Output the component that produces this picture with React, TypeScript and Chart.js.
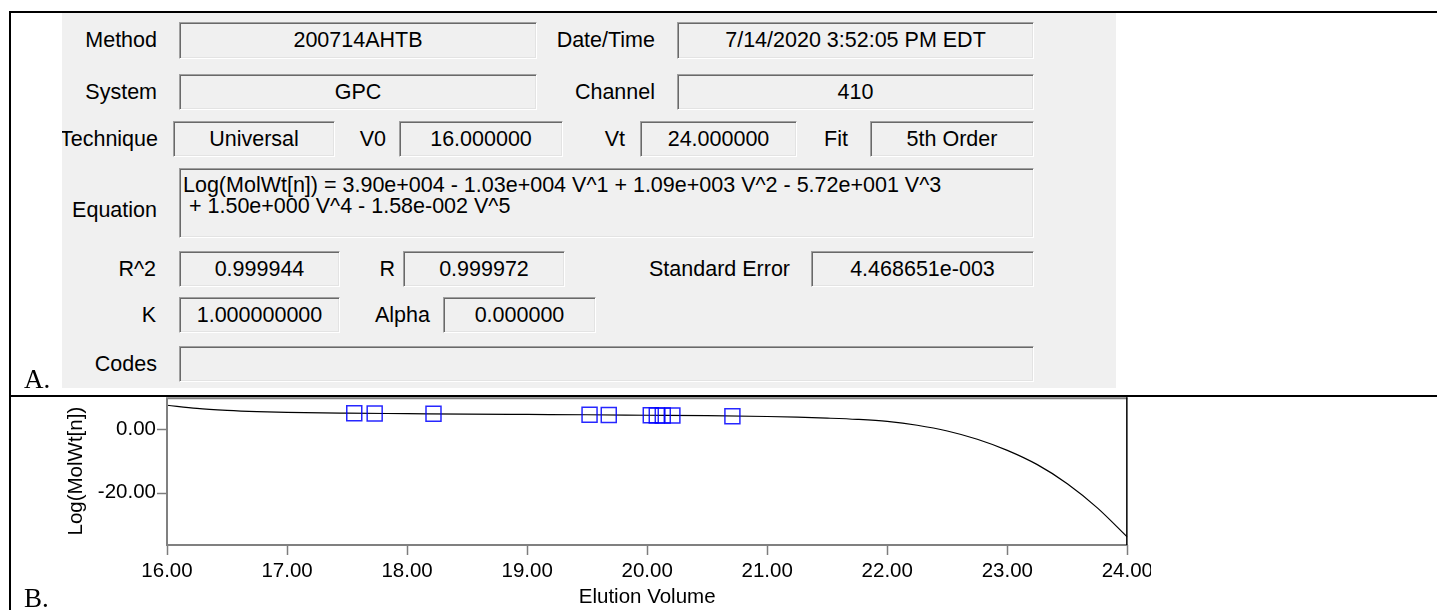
import React, { useEffect, useRef } from 'react';
import { Chart, registerables } from 'chart.js';

Chart.register(...registerables);

// ---- Chart data ----
const curveVolumes = [16, 16.25, 16.5, 16.75, 17, 17.5, 18, 18.5, 19, 19.5, 20, 20.5, 21, 21.25, 21.5, 21.75, 22, 22.25, 22.5, 22.75, 23, 23.25, 23.5, 23.75, 24];
const curveLogMolWt = [7.5, 6.5, 5.9, 5.5, 5.25, 5.0, 4.85, 4.7, 4.6, 4.5, 4.35, 4.2, 3.95, 3.75, 3.45, 3.05, 2.4, 1.2, -0.6, -3.2, -6.7, -11.2, -17.2, -24.8, -34.0];
const standardVolumes = [17.56, 17.73, 18.22, 19.52, 19.68, 20.03, 20.08, 20.13, 20.21, 20.71];
const standardLogMolWt = [4.95, 4.9, 4.8, 4.5, 4.45, 4.35, 4.3, 4.3, 4.25, 4.05];
const xRange = [16, 24];
const yRange = [-36.5, 10];
const yLabelledTicks = [0, -20];
const xTitle = 'Elution Volume';
const yTitle = 'Log(MolWt[n])';

const SANS = '"Liberation Sans", Arial, sans-serif';
const SERIF = '"Liberation Serif", "Times New Roman", serif';

// ---- Form panel (A) ----
const PANEL_X = 62;
const PANEL_Y = 12;

type LabelDef = { text: string; right: number; top: number; h: number };
type BoxDef = { text: string; x: number; y: number; x2: number; h: number };

const labels: LabelDef[] = [
  { text: 'Method', right: 157, top: 22, h: 37 },
  { text: 'Date/Time', right: 655, top: 22, h: 37 },
  { text: 'System', right: 157, top: 74, h: 36 },
  { text: 'Channel', right: 655, top: 74, h: 36 },
  { text: 'Technique', right: 158, top: 121, h: 36 },
  { text: 'V0', right: 386, top: 121, h: 36 },
  { text: 'Vt', right: 625, top: 121, h: 36 },
  { text: 'Fit', right: 848, top: 121, h: 36 },
  { text: 'Equation', right: 157, top: 192, h: 36 },
  { text: 'R^2', right: 156, top: 251, h: 36 },
  { text: 'R', right: 395, top: 251, h: 36 },
  { text: 'Standard Error', right: 790, top: 251, h: 36 },
  { text: 'K', right: 156, top: 297, h: 36 },
  { text: 'Alpha', right: 430, top: 297, h: 36 },
  { text: 'Codes', right: 157, top: 346, h: 36 },
];

const boxes: BoxDef[] = [
  { text: '200714AHTB', x: 179, y: 22, x2: 537, h: 37 },
  { text: '7/14/2020 3:52:05 PM EDT', x: 677, y: 22, x2: 1034, h: 37 },
  { text: 'GPC', x: 179, y: 74, x2: 537, h: 36 },
  { text: '410', x: 677, y: 74, x2: 1034, h: 36 },
  { text: 'Universal', x: 173, y: 121, x2: 335, h: 36 },
  { text: '16.000000', x: 399, y: 121, x2: 563, h: 36 },
  { text: '24.000000', x: 640, y: 121, x2: 797, h: 36 },
  { text: '5th Order', x: 870, y: 121, x2: 1034, h: 36 },
  { text: '0.999944', x: 179, y: 251, x2: 340, h: 36 },
  { text: '0.999972', x: 403, y: 251, x2: 565, h: 36 },
  { text: '4.468651e-003', x: 811, y: 251, x2: 1034, h: 36 },
  { text: '1.000000000', x: 179, y: 297, x2: 340, h: 36 },
  { text: '0.000000', x: 443, y: 297, x2: 596, h: 36 },
  { text: '', x: 179, y: 346, x2: 1034, h: 36 },
];

const equationLines = [
  'Log(MolWt[n]) = 3.90e+004 - 1.03e+004 V^1 + 1.09e+003 V^2 - 5.72e+001 V^3',
  ' + 1.50e+000 V^4 - 1.58e-002 V^5',
];

const sunken: React.CSSProperties = {
  position: 'absolute',
  boxSizing: 'border-box',
  background: '#f0f0f0',
  borderTop: '1px solid #a0a0a0',
  borderLeft: '1px solid #a0a0a0',
  borderRight: '1px solid #ffffff',
  borderBottom: '1px solid #ffffff',
  boxShadow: 'inset 1px 1px 0 #696969, inset -1px -1px 0 #e3e3e3',
  color: '#000',
  fontFamily: SANS,
  fontSize: 21.5,
  whiteSpace: 'pre',
  overflow: 'hidden',
};

function Panel() {
  return (
    <div
      style={{
        position: 'absolute',
        left: PANEL_X,
        top: PANEL_Y,
        width: 1116 - PANEL_X,
        height: 388 - PANEL_Y,
        background: '#f0f0f0',
        overflow: 'hidden',
      }}
    >
      {labels.map((l, i) => (
        <div
          key={'l' + i}
          style={{
            position: 'absolute',
            left: l.right - 300 - PANEL_X,
            width: 300,
            top: l.top - PANEL_Y,
            height: l.h,
            lineHeight: l.h + 'px',
            textAlign: 'right',
            fontFamily: SANS,
            fontSize: 21.5,
            color: '#000',
            whiteSpace: 'pre',
          }}
        >
          {l.text}
        </div>
      ))}
      {boxes.map((b, i) => (
        <div
          key={'b' + i}
          style={{
            ...sunken,
            left: b.x - PANEL_X,
            top: b.y - PANEL_Y,
            width: b.x2 - b.x,
            height: b.h,
            lineHeight: b.h - 2 + 'px',
            textAlign: 'center',
          }}
        >
          {b.text}
        </div>
      ))}
      <div
        style={{
          ...sunken,
          left: 179 - PANEL_X,
          top: 168 - PANEL_Y,
          width: 1034 - 179,
          height: 70,
          lineHeight: '21px',
          paddingTop: 6,
          paddingLeft: 3,
          textAlign: 'left',
        }}
      >
        {equationLines.map((t, i) => (
          <div key={i}>{t}</div>
        ))}
      </div>
    </div>
  );
}

// ---- Chart (B) ----
function CalibrationChart() {
  const ref = useRef<HTMLCanvasElement>(null);
  useEffect(() => {
    if (!ref.current) return;
    const isInt = (v: number) => Math.abs(v - Math.round(v)) < 1e-6;
    const frame = {
      id: 'frameAndTicks',
      afterDraw(chart: any) {
        const { ctx, chartArea: a, scales } = chart;
        const xs = scales.x;
        const ys = scales.y;
        ctx.save();
        ctx.strokeStyle = '#7d7d7d';
        ctx.lineWidth = 1.5;
        for (const t of xs.ticks) {
          const px = Math.round(xs.getPixelForValue(t.value)) + 0.5;
          const len = isInt(t.value) ? 10 : 5;
          ctx.beginPath();
          ctx.moveTo(px, a.bottom);
          ctx.lineTo(px, a.bottom + len);
          ctx.stroke();
        }
        for (const t of ys.ticks) {
          const py = Math.round(ys.getPixelForValue(t.value)) + 0.5;
          const len = yLabelledTicks.includes(t.value) ? 10 : 6;
          ctx.beginPath();
          ctx.moveTo(a.left, py);
          ctx.lineTo(a.left - len, py);
          ctx.stroke();
        }
        ctx.lineWidth = 2;
        ctx.strokeStyle = '#808080';
        ctx.beginPath();
        ctx.moveTo(a.right, a.top + 1);
        ctx.lineTo(a.left, a.top + 1);
        ctx.lineTo(a.left, a.bottom);
        ctx.lineTo(a.right, a.bottom);
        ctx.stroke();
        ctx.strokeStyle = '#000';
        ctx.lineWidth = 1.5;
        ctx.beginPath();
        ctx.moveTo(a.right - 0.5, a.top);
        ctx.lineTo(a.right - 0.5, a.bottom);
        ctx.stroke();
        ctx.restore();
      },
    };
    const chart = new Chart(ref.current, {
      type: 'scatter',
      data: {
        datasets: [
          {
            label: 'fit',
            data: curveVolumes.map((v, i) => ({ x: v, y: curveLogMolWt[i] })),
            showLine: true,
            borderColor: '#000',
            borderWidth: 1.2,
            pointRadius: 0,
            cubicInterpolationMode: 'monotone',
            order: 2,
          },
          {
            label: 'standards',
            data: standardVolumes.map((v, i) => ({ x: v, y: standardLogMolWt[i] })),
            showLine: false,
            pointStyle: 'rect',
            pointRadius: 10.6,
            backgroundColor: 'rgba(0,0,0,0)',
            borderColor: 'rgba(0,0,255,0.85)',
            borderWidth: 1.5,
            order: 1,
          },
        ],
      },
      options: {
        animation: false,
        responsive: false,
        devicePixelRatio: 1,
        events: [],
        layout: { autoPadding: false, padding: { left: 0, right: 0, top: 0, bottom: 0 } },
        plugins: { legend: { display: false }, tooltip: { enabled: false } },
        scales: {
          x: {
            type: 'linear',
            min: xRange[0],
            max: xRange[1],
            border: { display: false },
            grid: { display: true, drawOnChartArea: false, drawTicks: true, tickLength: 10, color: 'rgba(0,0,0,0)', tickColor: 'rgba(0,0,0,0)' },
            ticks: {
              stepSize: 0.2,
              autoSkip: false,
              maxRotation: 0,
              minRotation: 0,
              padding: 4,
              color: '#000',
              font: { family: SANS, size: 20.5 },
              callback: (v: any) => (isInt(Number(v)) ? Number(v).toFixed(2) : null),
            },
            title: { display: true, text: xTitle, color: '#000', font: { family: SANS, size: 20.5 }, padding: { top: 0, bottom: 0 } },
            afterFit: (s: any) => {
              s.height = 65;
            },
          },
          y: {
            type: 'linear',
            min: yRange[0],
            max: yRange[1],
            border: { display: false },
            grid: { display: true, drawOnChartArea: false, drawTicks: true, tickLength: 10, color: 'rgba(0,0,0,0)', tickColor: 'rgba(0,0,0,0)' },
            afterBuildTicks: (s: any) => {
              s.ticks = s.ticks.filter((t: any) => Math.abs(t.value / 5 - Math.round(t.value / 5)) < 1e-6);
            },
            ticks: {
              stepSize: 5,
              padding: 1,
              color: '#000',
              font: { family: SANS, size: 20.5 },
              callback: (v: any) => (yLabelledTicks.includes(Number(v)) ? Number(v).toFixed(2) : null),
            },
            title: { display: true, text: yTitle, color: '#000', font: { family: SANS, size: 20.5 }, padding: { top: 52.7, bottom: 0 } },
            afterFit: (s: any) => {
              s.width = 156;
            },
          },
        },
      },
      plugins: [frame],
    } as any);
    return () => chart.destroy();
  }, []);
  return (
    <div style={{ position: 'absolute', left: 11, top: 384, width: 1140, height: 226, overflow: 'hidden' }}>
      <canvas
        ref={ref}
        width={1146}
        height={226}
        style={{ position: 'absolute', left: 0, top: 0, width: 1146, height: 226, display: 'block' }}
      />
    </div>
  );
}

export default function App() {
  return (
    <div style={{ position: 'absolute', left: 0, top: 0, width: 1437, height: 610, overflow: 'hidden', background: '#fff' }}>
      <Panel />
      <CalibrationChart />
      {/* table rules */}
      <div style={{ position: 'absolute', left: 9, top: 11, width: 1428, height: 2, background: '#000' }} />
      <div style={{ position: 'absolute', left: 9, top: 395, width: 1428, height: 2, background: '#000' }} />
      <div style={{ position: 'absolute', left: 9, top: 11, width: 2, height: 599, background: '#000' }} />
      <div style={{ position: 'absolute', left: 24, top: 366, fontFamily: SERIF, fontSize: 27, lineHeight: '27px', color: '#000' }}>A.</div>
      <div style={{ position: 'absolute', left: 24, top: 585, fontFamily: SERIF, fontSize: 27, lineHeight: '27px', color: '#000' }}>B.</div>
    </div>
  );
}
